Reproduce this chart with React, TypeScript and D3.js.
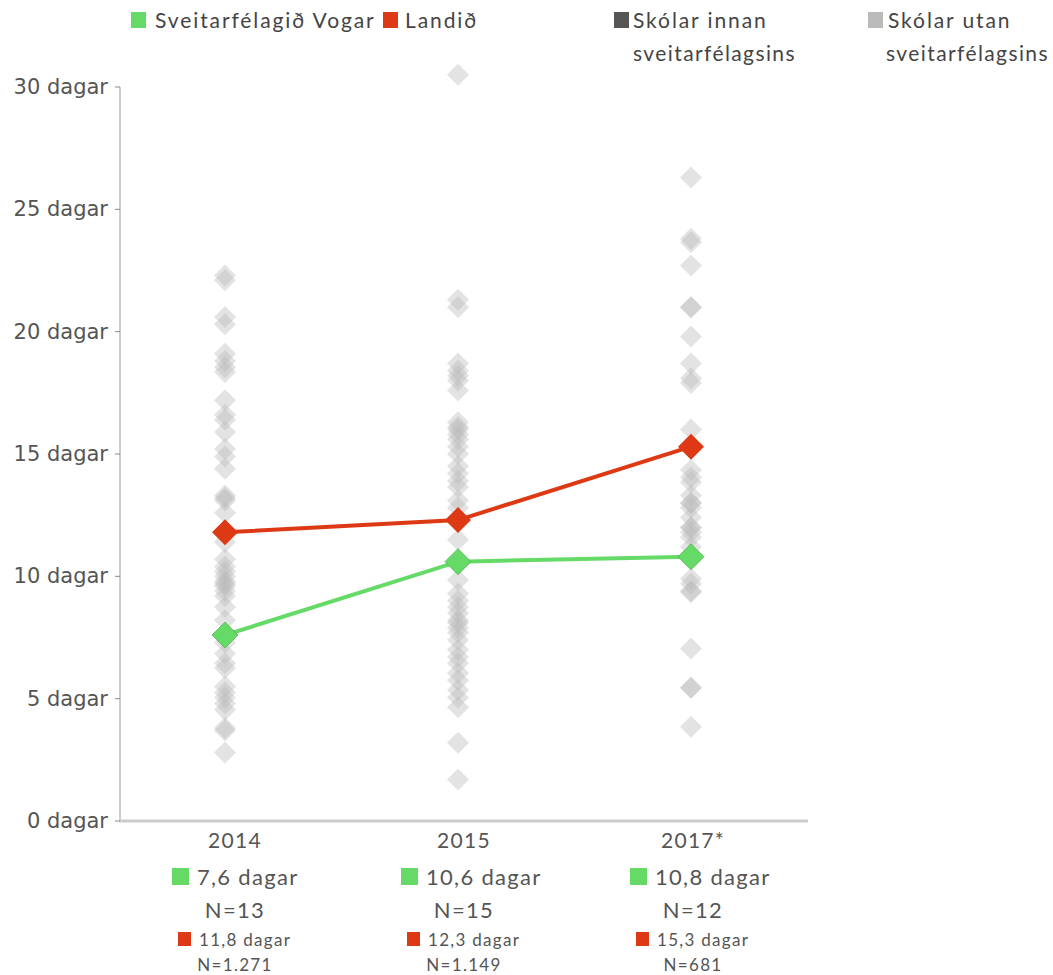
import React from "react";
import * as d3 from "d3";

const years = ["2014", "2015", "2017*"];
const vogar = [7.6, 10.6, 10.8];
const landid = [11.8, 12.3, 15.3];
const vogarN = ["N=13", "N=15", "N=12"];
const landidN = ["N=1.271", "N=1.149", "N=681"];
const yTicks = [0, 5, 10, 15, 20, 25, 30];

const schools2014 = [22.3, 22.1, 20.6, 20.3, 19.1, 18.8, 18.55, 18.35, 17.2, 16.6, 16.4, 15.9, 15.2, 14.9, 14.4, 13.3, 13.2, 13.1, 12.6, 11.4, 10.7, 10.4, 10.2, 10.0, 9.8, 9.7, 9.6, 9.4, 9.2, 8.75, 8.2, 7.3, 6.85, 6.45, 6.25, 5.5, 5.25, 5.05, 4.8, 4.55, 3.7, 3.8, 2.8];
const schools2015 = [30.5, 21.3, 21.0, 18.7, 18.4, 18.2, 18.0, 17.6, 16.3, 16.1, 16.0, 15.8, 15.6, 15.3, 15.0, 14.5, 14.2, 13.9, 13.65, 13.1, 12.8, 11.5, 9.85, 9.3, 9.0, 8.75, 8.5, 8.2, 8.1, 7.9, 7.7, 7.4, 7.0, 6.7, 6.45, 6.05, 5.75, 5.35, 5.05, 4.65, 3.2, 1.7];
const schools2017 = [26.3, 23.8, 23.65, 22.7, 21.0, 21.0, 19.8, 18.7, 18.1, 17.9, 16.0, 14.35, 14.05, 13.85, 13.3, 13.0, 13.0, 12.8, 12.4, 12.0, 12.0, 11.8, 11.6, 11.2, 9.9, 9.7, 9.35, 9.4, 7.05, 5.45, 5.45, 3.85];
const schools = [schools2014, schools2015, schools2017];

const GREEN = "#66DA66";
const RED = "#DD3914";
const FONT = "Lato, 'Open Sans', sans-serif";
const AXFONT = "'DejaVu Sans', sans-serif";

const diamond = (cx: number, cy: number, r: number) =>
  `M${cx},${cy - r}L${cx + r},${cy}L${cx},${cy + r}L${cx - r},${cy}Z`;

export default function App() {
  const W = 1053;
  const H = 975;
  const y = d3.scaleLinear().domain([0, 30]).range([821, 87]);
  const x = d3.scalePoint<string>().domain(years).range([225, 691]);
  const xl = d3.scalePoint<string>().domain(years).range([235, 693]);
  const line = d3
    .line<number>()
    .x((_, i) => x(years[i]) as number)
    .y((d) => y(d));

  return (
    <svg width={W} height={H} style={{ display: "block", position: "absolute", left: 0, top: 0 }} fontFamily={FONT}>
      <rect width={W} height={H} fill="#fff" />
      {/* Legend */}
      <g fill="#444" fontSize={21} letterSpacing={1.9}>
        <rect x={131} y={12} width={15} height={16} fill={GREEN} />
        <text x={155} y={28}>Sveitarfélagið Vogar</text>
        <rect x={383} y={12} width={15} height={16} fill={RED} />
        <text x={405} y={28}>Landið</text>
        <rect x={614} y={12} width={15} height={16} fill="#555" />
        <text x={633} y={28}>Skólar innan</text>
        <text x={633} y={61} letterSpacing={1.4}>sveitarfélagsins</text>
        <rect x={868} y={12} width={15} height={16} fill="#bbb" />
        <text x={888} y={28}>Skólar utan</text>
        <text x={886} y={61} letterSpacing={1.4}>sveitarfélagsins</text>
      </g>
      {/* Axes */}
      <line x1={120} x2={120} y1={y(30)} y2={y(0)} stroke="#ccc" strokeWidth={2} />
      <line x1={119} x2={808} y1={y(0)} y2={y(0)} stroke="#ccc" strokeWidth={3} />
      {yTicks.map((t) => (
        <g key={t}>
          <line x1={115} x2={120} y1={y(t)} y2={y(t)} stroke="#888" strokeWidth={1} />
          <text x={108} y={y(t) + 7} textAnchor="end" fontSize={21} fill="#555" fontFamily={AXFONT}>
            {`${t} dagar`}
          </text>
        </g>
      ))}
      {/* Scatter */}
      {schools.map((arr, i) =>
        arr.map((v, j) => (
          <path key={`${i}-${j}`} d={diamond(x(years[i]) as number, y(v), 11)} fill="#b8b8b8" fillOpacity={0.4} />
        ))
      )}
      {/* Lines */}
      <path d={line(landid) || ""} fill="none" stroke={RED} strokeWidth={4} />
      <path d={line(vogar) || ""} fill="none" stroke={GREEN} strokeWidth={4} />
      {landid.map((v, i) => (
        <path key={`r${i}`} d={diamond(x(years[i]) as number, y(v), 13)} fill={RED} />
      ))}
      {vogar.map((v, i) => (
        <path key={`g${i}`} d={diamond(x(years[i]) as number, y(v), 13)} fill={GREEN} stroke="#4fb34f" strokeWidth={0.8} />
      ))}
      {/* Bottom labels */}
      {years.map((yr, i) => {
        const cx = xl(yr) as number;
        const gT = `${vogar[i].toFixed(1).replace(".", ",")} dagar`;
        const rT = `${landid[i].toFixed(1).replace(".", ",")} dagar`;
        return (
          <g key={yr} fill="#555" letterSpacing={1.3}>
            <text x={cx} y={848} textAnchor="middle" fontSize={21}>{yr}</text>
            <g transform={`translate(${cx},0)`}>
              <rect x={-63} y={868} width={17} height={17} fill={GREEN} />
              <text x={-38} y={885} fontSize={22}>{gT}</text>
            </g>
            <text x={cx} y={918} textAnchor="middle" fontSize={22}>{vogarN[i]}</text>
            <g transform={`translate(${cx},0)`}>
              <rect x={-57} y={932} width={13} height={14} fill={RED} />
              <text x={-36} y={946} fontSize={17}>{rT}</text>
            </g>
            <text x={cx} y={971} textAnchor="middle" fontSize={17}>{landidN[i]}</text>
          </g>
        );
      })}
    </svg>
  );
}
